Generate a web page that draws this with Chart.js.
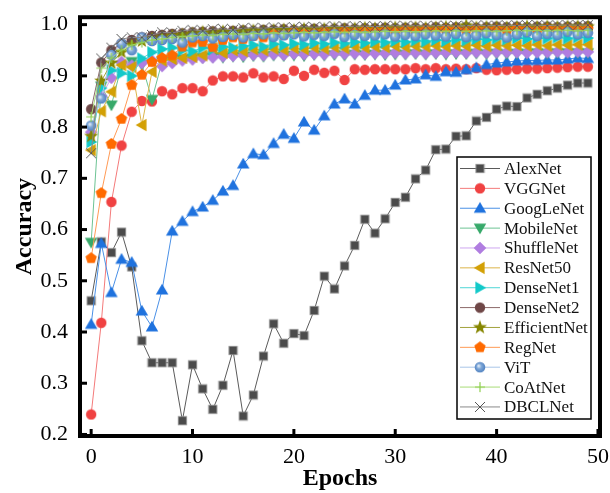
<!DOCTYPE html>
<html>
<head>
<meta charset="utf-8">
<script src="https://cdn.jsdelivr.net/npm/chart.js@4"></script>
<style>
  html, body { margin: 0; padding: 0; background: #fff; }
</style>
</head>
<body>
<canvas id="accChart" width="610" height="493"></canvas>
<script>
// epochs and accuracy curves
const epochs = [0,1,2,3,4,5,6,7,8,9,10,11,12,13,14,15,16,17,18,19,20,21,22,23,24,25,26,27,28,29,30,31,32,33,34,35,36,37,38,39,40,41,42,43,44,45,46,47,48,49];

const alexNet = [0.461,0.576,0.555,0.595,0.527,0.383,0.340,0.340,0.340,0.227,0.336,0.289,0.249,0.296,0.364,0.236,0.277,0.353,0.416,0.378,0.397,0.393,0.442,0.509,0.484,0.529,0.569,0.620,0.593,0.621,0.653,0.663,0.699,0.716,0.756,0.757,0.782,0.783,0.812,0.819,0.835,0.841,0.840,0.857,0.864,0.871,0.876,0.882,0.886,0.886];
const vggNet = [0.239,0.418,0.654,0.764,0.830,0.851,0.850,0.870,0.864,0.876,0.876,0.870,0.891,0.899,0.899,0.897,0.905,0.897,0.899,0.894,0.910,0.900,0.912,0.906,0.910,0.892,0.913,0.912,0.913,0.913,0.913,0.913,0.915,0.913,0.915,0.913,0.914,0.913,0.915,0.912,0.911,0.912,0.913,0.914,0.914,0.915,0.916,0.917,0.918,0.918];
const googLeNet = [0.415,0.573,0.477,0.542,0.536,0.441,0.410,0.482,0.597,0.616,0.635,0.644,0.657,0.675,0.686,0.728,0.748,0.746,0.768,0.786,0.778,0.810,0.794,0.822,0.845,0.855,0.845,0.862,0.872,0.872,0.882,0.892,0.894,0.902,0.899,0.908,0.907,0.912,0.916,0.922,0.925,0.927,0.929,0.930,0.930,0.931,0.931,0.933,0.935,0.934];
const mobileNet = [0.575,0.880,0.843,0.920,0.928,0.922,0.854,0.928,0.932,0.933,0.934,0.936,0.937,0.936,0.938,0.937,0.939,0.938,0.940,0.939,0.940,0.939,0.941,0.940,0.941,0.940,0.942,0.941,0.942,0.941,0.942,0.942,0.943,0.942,0.943,0.942,0.943,0.943,0.944,0.943,0.944,0.943,0.944,0.944,0.945,0.944,0.945,0.945,0.945,0.945];
const shuffleNet = [0.790,0.860,0.896,0.927,0.920,0.925,0.930,0.919,0.925,0.930,0.932,0.935,0.936,0.938,0.939,0.940,0.941,0.940,0.942,0.941,0.943,0.942,0.943,0.942,0.944,0.943,0.944,0.943,0.944,0.944,0.945,0.944,0.945,0.944,0.945,0.945,0.946,0.945,0.946,0.945,0.946,0.946,0.946,0.945,0.946,0.946,0.947,0.946,0.947,0.947];
const resNet50 = [0.755,0.831,0.869,0.921,0.917,0.804,0.908,0.930,0.933,0.935,0.937,0.940,0.954,0.945,0.950,0.948,0.952,0.950,0.953,0.951,0.954,0.952,0.955,0.953,0.956,0.954,0.957,0.955,0.957,0.956,0.958,0.956,0.958,0.957,0.959,0.957,0.959,0.958,0.960,0.958,0.960,0.959,0.960,0.959,0.961,0.959,0.961,0.960,0.961,0.961];
const denseNet1 = [0.771,0.876,0.911,0.905,0.900,0.934,0.946,0.952,0.955,0.950,0.948,0.955,0.952,0.957,0.955,0.958,0.960,0.957,0.962,0.960,0.963,0.961,0.964,0.962,0.965,0.963,0.966,0.964,0.967,0.965,0.968,0.966,0.969,0.967,0.970,0.968,0.971,0.969,0.972,0.970,0.973,0.971,0.974,0.972,0.974,0.973,0.975,0.973,0.975,0.974];
const denseNet2 = [0.835,0.926,0.950,0.963,0.970,0.975,0.978,0.980,0.982,0.983,0.985,0.986,0.987,0.986,0.988,0.989,0.988,0.990,0.990,0.991,0.990,0.991,0.992,0.991,0.992,0.993,0.992,0.993,0.993,0.994,0.993,0.994,0.994,0.993,0.995,0.994,0.995,0.995,0.994,0.995,0.996,0.995,0.996,0.995,0.996,0.996,0.995,0.996,0.996,0.997];
const efficientNet = [0.782,0.890,0.925,0.946,0.960,0.968,0.972,0.975,0.978,0.980,0.982,0.985,0.983,0.986,0.985,0.987,0.988,0.987,0.989,0.990,0.989,0.991,0.990,0.991,0.992,0.991,0.992,0.993,0.992,0.993,0.994,0.993,0.994,0.993,0.994,0.995,0.994,0.998,0.994,0.995,0.995,0.994,0.995,0.996,0.995,0.996,0.995,0.996,0.996,0.996];
const regNet = [0.544,0.671,0.767,0.816,0.882,0.902,0.927,0.935,0.940,0.957,0.965,0.966,0.956,0.970,0.975,0.972,0.978,0.975,0.982,0.980,0.985,0.983,0.984,0.986,0.985,0.987,0.986,0.988,0.987,0.988,0.987,0.989,0.988,0.989,0.988,0.990,0.989,0.988,0.990,0.989,0.990,0.989,0.991,0.990,0.989,0.991,0.990,0.991,0.990,0.991];
const viT = [0.803,0.856,0.941,0.963,0.950,0.975,0.968,0.970,0.972,0.965,0.975,0.978,0.973,0.976,0.980,0.975,0.978,0.981,0.976,0.979,0.981,0.977,0.980,0.978,0.982,0.976,0.980,0.978,0.979,0.981,0.977,0.980,0.978,0.981,0.979,0.977,0.982,0.976,0.979,0.983,0.980,0.975,0.981,0.985,0.978,0.982,0.980,0.986,0.981,0.984];
const coAtNet = [0.820,0.915,0.935,0.950,0.960,0.965,0.970,0.972,0.975,0.977,0.978,0.980,0.979,0.981,0.982,0.981,0.983,0.982,0.984,0.983,0.984,0.985,0.984,0.985,0.986,0.985,0.986,0.985,0.986,0.987,0.986,0.987,0.986,0.987,0.988,0.987,0.988,0.987,0.988,0.988,0.987,0.988,0.989,0.988,0.989,0.988,0.989,0.989,0.988,0.989];
const dbclNet = [0.749,0.934,0.955,0.972,0.975,0.975,0.980,0.985,0.984,0.988,0.990,0.988,0.991,0.992,0.990,0.993,0.994,0.993,0.995,0.994,0.995,0.996,0.995,0.996,0.997,0.996,0.997,0.997,0.996,0.997,0.998,0.997,0.998,0.997,0.998,0.998,0.997,0.998,0.999,0.998,0.998,0.999,0.998,0.999,0.999,0.998,0.999,0.999,0.999,0.999];

const xTicks = [0, 10, 20, 30, 40, 50];
const yTicks = [0.2, 0.3, 0.4, 0.5, 0.6, 0.7, 0.8, 0.9, 1.0];

const serif = "'Liberation Serif', 'Times New Roman', serif";

// marker images (chart.js has no pentagon / filled star / sphere)
function makeMarker(size, paint) {
  const c = document.createElement('canvas');
  c.width = size; c.height = size;
  const g = c.getContext('2d');
  g.translate(size / 2, size / 2);
  paint(g);
  return c;
}
function regularPts(n, r, startDeg) {
  const pts = [];
  for (let i = 0; i < n; i++) {
    const a = (startDeg + i * 360 / n) * Math.PI / 180;
    pts.push([r * Math.cos(a), r * Math.sin(a)]);
  }
  return pts;
}
function fillPoly(g, pts, color) {
  g.beginPath();
  pts.forEach(([x, y], i) => i ? g.lineTo(x, y) : g.moveTo(x, y));
  g.closePath();
  g.fillStyle = color;
  g.fill();
}
function starPts(r1, r2) {
  const pts = [];
  for (let i = 0; i < 10; i++) {
    const a = (-90 + i * 36) * Math.PI / 180;
    const r = i % 2 ? r2 : r1;
    pts.push([r * Math.cos(a), r * Math.sin(a)]);
  }
  return pts;
}

const mSquare = makeMarker(11, g => {
  g.fillStyle = '#4b4b4b'; g.fillRect(-4.3, -4.3, 8.6, 8.6);
  g.strokeStyle = '#a0a0a0'; g.lineWidth = 0.7; g.strokeRect(-4.3, -4.3, 8.6, 8.6);
});
const mRedDot = makeMarker(12, g => { g.beginPath(); g.arc(0, 0, 5.2, 0, Math.PI * 2); g.fillStyle = '#f04242'; g.fill(); });
const mUp = makeMarker(16, g => fillPoly(g, regularPts(3, 7.2, -90).map(([x, y]) => [x, y + 1]), '#1f72de'));
const mDown = makeMarker(16, g => fillPoly(g, regularPts(3, 7.2, 90).map(([x, y]) => [x, y - 1]), '#37a96a'));
const mDiamond = makeMarker(14, g => fillPoly(g, [[0, -6.3], [6.3, 0], [0, 6.3], [-6.3, 0]], '#b07de0'));
const mLeft = makeMarker(16, g => fillPoly(g, regularPts(3, 7.2, 180).map(([x, y]) => [x + 1, y]), '#d3a005'));
const mRight = makeMarker(16, g => fillPoly(g, regularPts(3, 7.2, 0).map(([x, y]) => [x - 1, y]), '#12c9c9'));
const mBrown = makeMarker(12, g => { g.beginPath(); g.arc(0, 0, 5.2, 0, Math.PI * 2); g.fillStyle = '#6f4747'; g.fill(); });
const mStar = makeMarker(16, g => fillPoly(g, starPts(7.4, 3), '#868600'));
const mPenta = makeMarker(14, g => fillPoly(g, regularPts(5, 6, -90), '#ff6a00'));
const mSphere = makeMarker(12, g => {
  const gr = g.createRadialGradient(-1.5, -1.5, 0.5, 0, 0, 5.5);
  gr.addColorStop(0, '#dfeaf7'); gr.addColorStop(0.4, '#7fa8d8'); gr.addColorStop(1, '#4d7fbf');
  g.beginPath(); g.arc(0, 0, 5.3, 0, Math.PI * 2); g.fillStyle = gr; g.fill();
});
const mPlus = makeMarker(12, g => {
  g.strokeStyle = '#8fcf4f'; g.lineWidth = 1.2;
  g.beginPath(); g.moveTo(-5, 0); g.lineTo(5, 0); g.moveTo(0, -5); g.lineTo(0, 5); g.stroke();
});
const mCross = makeMarker(12, g => {
  g.strokeStyle = '#555'; g.lineWidth = 1;
  g.beginPath(); g.moveTo(-5, -5); g.lineTo(5, 5); g.moveTo(5, -5); g.lineTo(-5, 5); g.stroke();
});

function series(label, values, lineColor, marker) {
  return {
    label: label,
    data: values.map((v, i) => ({ x: epochs[i], y: v })),
    borderColor: lineColor,
    borderWidth: 1,
    pointStyle: marker,
    backgroundColor: lineColor,
    tension: 0,
  };
}

const datasets = [
  series('AlexNet', alexNet, '#5a5a5a', mSquare),
  series('VGGNet', vggNet, '#f47a7a', mRedDot),
  series('GoogLeNet', googLeNet, '#4a90e6', mUp),
  series('MobileNet', mobileNet, '#6cc393', mDown),
  series('ShuffleNet', shuffleNet, '#cfa7f0', mDiamond),
  series('ResNet50', resNet50, '#dcb54a', mLeft),
  series('DenseNet1', denseNet1, '#4fd6d6', mRight),
  series('DenseNet2', denseNet2, '#8c6a6a', mBrown),
  series('EfficientNet', efficientNet, '#a3a33c', mStar),
  series('RegNet', regNet, '#ff9a55', mPenta),
  series('ViT', viT, '#a9c6e8', mSphere),
  series('CoAtNet', coAtNet, '#a8dc78', mPlus),
  series('DBCLNet', dbclNet, '#8a8a8a', mCross),
];
// later series drawn on top
datasets.forEach((d, i) => { d.order = datasets.length - i; });

const framePlugin = {
  id: 'frame',
  afterDatasetsDraw(chart) {
    const { ctx, chartArea: a, scales } = chart;
    ctx.save();
    ctx.strokeStyle = '#000';
    ctx.lineWidth = 3;
    xTicks.forEach(t => {
      const x = scales.x.getPixelForValue(t);
      ctx.beginPath(); ctx.moveTo(x, a.bottom); ctx.lineTo(x, a.bottom - 7); ctx.stroke();
    });
    yTicks.forEach(t => {
      const y = scales.y.getPixelForValue(t);
      ctx.beginPath(); ctx.moveTo(a.left, y); ctx.lineTo(a.left + 7, y); ctx.stroke();
    });
    ctx.lineWidth = 4;
    ctx.strokeRect(a.left, a.top, a.right - a.left, a.bottom - a.top);
    ctx.restore();
  }
};

const legendPlugin = {
  id: 'boxLegend',
  afterDraw(chart) {
    const ctx = chart.ctx;
    const bx = 457, by = 157, bw = 134, bh = 262;
    ctx.save();
    ctx.fillStyle = '#fff';
    ctx.fillRect(bx, by, bw, bh);
    ctx.strokeStyle = '#000';
    ctx.lineWidth = 1.5;
    ctx.strokeRect(bx, by, bw, bh);
    ctx.font = '17px ' + serif;
    ctx.textBaseline = 'middle';
    chart.data.datasets.forEach((ds, i) => {
      const y = 168.5 + i * 19.87;
      ctx.strokeStyle = ds.borderColor;
      ctx.lineWidth = 1;
      ctx.beginPath(); ctx.moveTo(460, y); ctx.lineTo(500, y); ctx.stroke();
      const m = ds.pointStyle;
      ctx.drawImage(m, 480 - m.width / 2, y - m.height / 2);
      ctx.fillStyle = '#111';
      ctx.fillText(ds.label, 504, y + 1);
    });
    ctx.restore();
  }
};

new Chart(document.getElementById('accChart'), {
  type: 'line',
  data: { datasets: datasets },
  options: {
    responsive: false,
    animation: false,
    events: [],
    layout: { padding: { top: 8, right: 10, left: 0, bottom: 0 } },
    plugins: { legend: { display: false }, tooltip: { enabled: false } },
    elements: { point: { radius: 5 } },
    scales: {
      x: {
        type: 'linear',
        min: -1.1,
        max: 50.2,
        grid: { display: false },
        border: { display: false },
        afterBuildTicks: s => { s.ticks = xTicks.map(v => ({ value: v })); },
        afterFit: s => { s.height = 57; },
        ticks: { color: '#000', font: { family: serif, size: 22 }, padding: 0, maxRotation: 0 },
        title: { display: true, text: 'Epochs', color: '#000', font: { family: serif, size: 24, weight: 'bold' }, padding: { top: 0, bottom: 0 } },
      },
      y: {
        min: 0.197,
        max: 1.0145,
        grid: { display: false },
        border: { display: false },
        afterBuildTicks: s => { s.ticks = yTicks.map(v => ({ value: v })); },
        afterFit: s => { s.width = 80; },
        ticks: { color: '#000', font: { family: serif, size: 22 }, padding: 4, callback: v => v.toFixed(1) },
        title: { display: true, text: 'Accuracy', color: '#000', font: { family: serif, size: 24, weight: 'bold' }, padding: { top: 10, bottom: 0 } },
      },
    },
  },
  plugins: [framePlugin, legendPlugin],
});
</script>
</body>
</html>
